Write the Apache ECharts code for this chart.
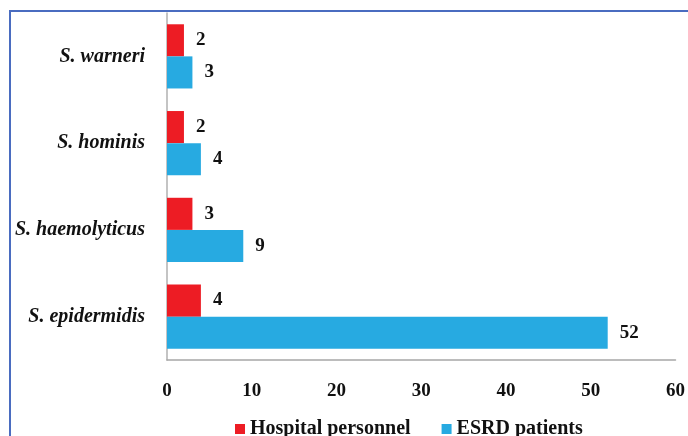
<!DOCTYPE html>
<html>
<head>
<meta charset="utf-8">
<script src="https://cdn.jsdelivr.net/npm/echarts@6/dist/echarts.min.js"></script>
<style>
  html, body { margin: 0; padding: 0; background: #fff; }
  #chart { width: 688px; height: 436px; }
</style>
</head>
<body>
<div id="chart"></div>
<script>
// Species, listed top to bottom
const species = ['S. warneri', 'S. hominis', 'S. haemolyticus', 'S. epidermidis'];
// Isolate counts per group
const hospitalPersonnel = [2, 2, 3, 4];
const esrdPatients = [3, 4, 9, 52];
const seriesNames = ['Hospital personnel', 'ESRD patients'];
const xTicks = { min: 0, max: 60, interval: 10 };

const serif = '"Liberation Serif", "Times New Roman", serif';
const labelStyle = {
  show: true,
  position: 'right',
  distance: 12,
  color: '#111',
  fontFamily: serif,
  fontWeight: 'bold',
  fontSize: 19
};

const chart = echarts.init(document.getElementById('chart'));
chart.setOption({
  animation: false,
  backgroundColor: '#fff',
  graphic: [{
    type: 'rect',
    shape: { x: 10, y: 11, width: 700, height: 460 },
    style: { fill: 'none', stroke: '#4a6cc0', lineWidth: 2 },
    silent: true
  }],
  grid: { left: 167, right: 8, top: 13, bottom: 76, containLabel: false },
  legend: {
    top: 414,
    left: 230,
    itemWidth: 10,
    itemHeight: 10,
    itemGap: 31,
    icon: 'rect',
    textStyle: { fontFamily: serif, fontWeight: 'bold', fontSize: 20, color: '#111' },
    data: seriesNames
  },
  xAxis: {
    type: 'value',
    min: xTicks.min,
    max: xTicks.max,
    interval: xTicks.interval,
    axisLine: { show: true, lineStyle: { color: '#a6a6a6', width: 1.5 } },
    axisTick: { show: false },
    splitLine: { show: false },
    axisLabel: { margin: 22, color: '#111', fontFamily: serif, fontWeight: 'bold', fontSize: 19 }
  },
  yAxis: {
    type: 'category',
    inverse: true,
    data: species,
    axisLine: { show: true, lineStyle: { color: '#b0b0b0', width: 1.5 } },
    axisTick: { show: false },
    axisLabel: { margin: 22, color: '#111', fontFamily: serif, fontWeight: 'bold', fontStyle: 'italic', fontSize: 20 }
  },
  series: [
    {
      name: seriesNames[0],
      type: 'bar',
      data: hospitalPersonnel,
      itemStyle: { color: '#ed1c24' },
      barGap: '0%',
      barCategoryGap: '26%',
      label: labelStyle
    },
    {
      name: seriesNames[1],
      type: 'bar',
      data: esrdPatients,
      itemStyle: { color: '#27aae1' },
      barGap: '0%',
      barCategoryGap: '26%',
      label: labelStyle
    }
  ]
});
</script>
</body>
</html>
